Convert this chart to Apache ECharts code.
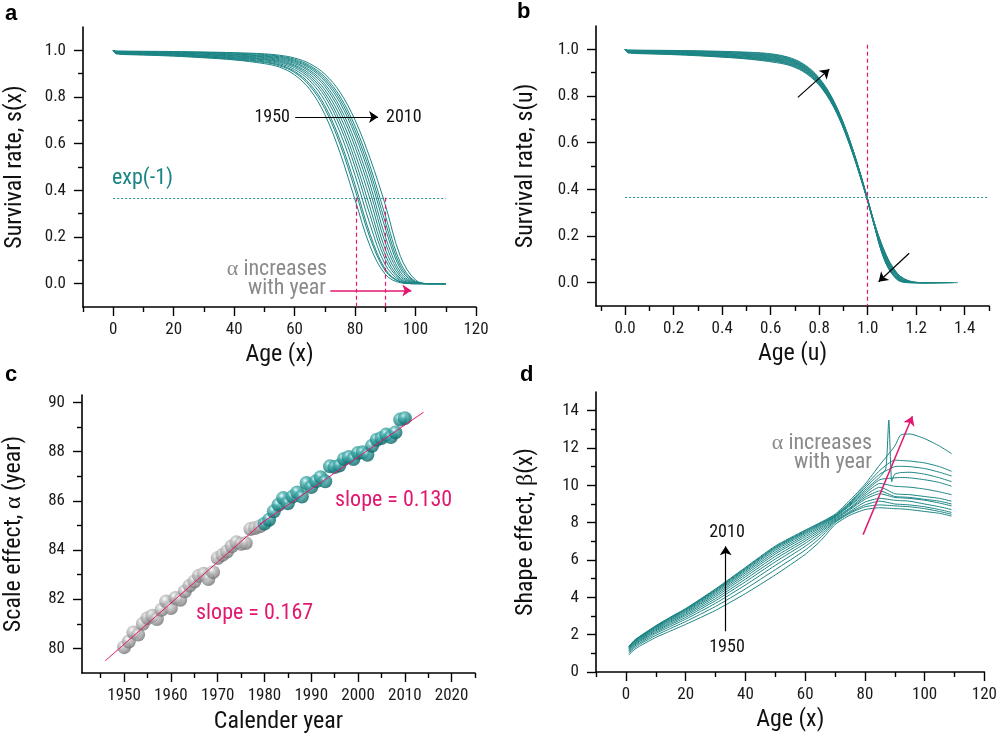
<!DOCTYPE html>
<html><head><meta charset="utf-8">
<script src="https://cdn.jsdelivr.net/npm/echarts@6/dist/echarts.min.js"></script>
<style>html,body{margin:0;padding:0;background:#fff}#c{width:1000px;height:740px}</style>
</head><body><div id="c"></div>
<script>
// ---------- DATA ----------
const years = [1950,1955,1960,1965,1970,1975,1980,1985,1990,1995,2000,2005,2010];
const curveAlpha = [80.2,81.2,81.7,82.7,83.6,84.3,85.1,85.9,86.6,87.4,88.0,88.6,89.5];

// panel a: survival rate s(x) at these ages
const sAges = [0,1,10,20,30,40,50,55,60,65,70,75,80,85,90,95,100,105,110];
const s1950 = [1,0.985,0.980,0.975,0.968,0.959,0.943,0.928,0.895,0.833,0.725,0.562,0.359,0.159,0.040,0.004,0,0,0];
const s1955 = [1,0.986,0.981,0.977,0.970,0.961,0.948,0.934,0.905,0.848,0.750,0.598,0.402,0.194,0.055,0.007,0,0,0];
const s1960 = [1,0.987,0.983,0.978,0.972,0.964,0.951,0.938,0.910,0.857,0.763,0.616,0.424,0.211,0.062,0.008,0,0,0];
const s1965 = [1,0.988,0.984,0.980,0.974,0.967,0.955,0.943,0.918,0.870,0.784,0.649,0.464,0.252,0.081,0.012,0,0,0];
const s1970 = [1,0.989,0.985,0.982,0.976,0.969,0.959,0.948,0.926,0.881,0.803,0.676,0.500,0.291,0.103,0.017,0.001,0,0];
const s1975 = [1,0.990,0.987,0.983,0.978,0.972,0.962,0.952,0.932,0.890,0.817,0.697,0.528,0.324,0.123,0.022,0.001,0,0];
const s1980 = [1,0.991,0.988,0.985,0.980,0.975,0.965,0.956,0.937,0.899,0.831,0.719,0.557,0.361,0.147,0.030,0.002,0,0];
const s1985 = [1,0.992,0.989,0.987,0.983,0.977,0.969,0.960,0.943,0.908,0.845,0.740,0.586,0.394,0.175,0.039,0.003,0,0];
const s1990 = [1,0.993,0.991,0.988,0.985,0.980,0.972,0.964,0.948,0.915,0.856,0.757,0.610,0.423,0.202,0.050,0.004,0,0];
const s1995 = [1,0.994,0.992,0.990,0.987,0.983,0.975,0.968,0.953,0.923,0.868,0.776,0.637,0.455,0.237,0.064,0.006,0,0];
const s2000 = [1,0.995,0.993,0.992,0.989,0.985,0.978,0.972,0.957,0.929,0.877,0.790,0.656,0.479,0.263,0.076,0.008,0,0];
const s2005 = [1,0.996,0.995,0.993,0.991,0.988,0.982,0.975,0.962,0.935,0.886,0.803,0.675,0.502,0.292,0.090,0.010,0,0];
const s2010 = [1,0.997,0.996,0.995,0.993,0.990,0.985,0.979,0.967,0.943,0.898,0.821,0.701,0.536,0.338,0.117,0.016,0,0];
const survival = [s1950,s1955,s1960,s1965,s1970,s1975,s1980,s1985,s1990,s1995,s2000,s2005,s2010];
const expLevel = 0.368;

// panel c: scale effect alpha per calendar year
const calYears = [1950,1951,1952,1953,1954,1955,1956,1957,1958,1959,1960,1961,1962,1963,1964,1965,1966,1967,1968,1969,
  1970,1971,1972,1973,1974,1975,1976,1977,1978,1979,1980,1981,1982,1983,1984,1985,1986,1987,1988,1989,
  1990,1991,1992,1993,1994,1995,1996,1997,1998,1999,2000,2001,2002,2003,2004,2005,2006,2007,2008,2009,2010];
const alphaVals = [80.05,80.28,80.65,80.56,81.0,81.23,81.33,81.19,81.57,81.91,81.64,82.05,81.98,82.32,82.55,82.72,82.95,83.03,82.82,83.1,
  83.67,83.8,83.94,84.15,84.31,84.25,84.28,84.85,84.89,84.96,85.07,85.23,85.57,85.84,86.11,85.9,86.17,86.34,86.17,86.72,
  86.56,86.79,86.96,86.79,87.4,87.37,87.43,87.7,87.78,87.7,87.94,87.97,87.87,88.24,88.48,88.55,88.69,88.59,88.78,89.3,89.36];
const splitYear = 1980;
const fitEarlyYears = [1946,1980], fitEarlyAlpha = [79.5,85.18];
const fitLateYears = [1979,2014], fitLateAlpha = [85.05,89.6];

// panel d: shape effect beta(x)
const betaAges = [1,3,5,10,15,20,30,40,50,60,65,70,75,80,85,90,92,95,100,105,109];
const b1950 = [0.92,1.22,1.42,1.85,2.20,2.55,3.30,4.20,5.20,6.30,7.00,7.90,8.40,8.70,8.80,8.75,8.74,8.70,8.60,8.50,8.35];
const b1955 = [1.00,1.31,1.52,1.96,2.34,2.70,3.51,4.45,5.48,6.53,7.18,8.00,8.50,8.85,8.95,8.90,8.88,8.85,8.75,8.60,8.45];
const b1960 = [1.07,1.39,1.59,2.06,2.45,2.83,3.68,4.66,5.71,6.73,7.33,8.05,8.55,8.95,9.15,9.00,8.98,8.95,8.85,8.70,8.55];
const b1965 = [1.13,1.45,1.66,2.13,2.54,2.93,3.82,4.83,5.90,6.89,7.45,8.10,8.60,9.10,9.30,9.20,9.18,9.15,9.00,8.85,8.70];
const b1970 = [1.17,1.50,1.71,2.20,2.61,3.02,3.93,4.97,6.05,7.02,7.55,8.15,8.70,9.25,9.55,9.35,9.33,9.30,9.20,9.05,8.90];
const b1975 = [1.21,1.54,1.76,2.25,2.68,3.09,4.04,5.10,6.19,7.13,7.64,8.20,8.75,9.35,9.70,9.40,9.38,9.35,9.25,9.15,9.00];
const b1980 = [1.25,1.58,1.80,2.30,2.74,3.16,4.13,5.21,6.32,7.24,7.72,8.25,8.80,9.45,9.90,9.55,9.52,9.50,9.40,9.30,9.15];
const b1985 = [1.28,1.62,1.84,2.35,2.79,3.22,4.21,5.31,6.42,7.33,7.79,8.30,8.90,9.55,10.10,9.95,9.93,9.90,9.80,9.65,9.50];
const b1990 = [1.31,1.65,1.87,2.39,2.84,3.27,4.28,5.39,6.52,7.41,7.85,8.32,8.95,9.65,10.30,10.40,10.42,10.40,10.30,10.15,9.95];
const b1995 = [1.33,1.67,1.90,2.42,2.88,3.32,4.34,5.46,6.60,7.47,7.90,8.35,9.00,9.75,10.45,10.60,10.68,10.70,10.60,10.40,10.20];
const b2000 = [1.35,1.69,1.92,2.44,2.91,3.35,4.38,5.52,6.66,7.52,7.94,8.38,9.05,9.85,10.60,11.00,11.02,11.00,10.90,10.70,10.50];
const b2005 = [1.37,1.71,1.93,2.46,2.93,3.37,4.42,5.56,6.70,7.56,7.97,8.40,9.10,9.95,10.80,11.35,11.33,11.30,11.20,11.00,10.75];
const b2010 = [1.38,1.72,1.95,2.48,2.95,3.40,4.45,5.60,6.75,7.60,8.00,8.45,9.20,10.05,11.10,12.10,12.70,12.75,12.50,12.10,11.70];
const betaCurves = [b1950,b1955,b1960,b1965,b1970,b1975,b1980,b1985,b1990,b1995,b2000,b2005,b2010];
const spikeYear = 1995, spikeAges = [87,88,89], spikeBeta = [10.9,13.5,10.2];

// tick values
const ageTicks = [0,20,40,60,80,100,120], ageMinor = [-10,10,30,50,70,90,110];
const sTicks = [0,0.2,0.4,0.6,0.8,1.0], sMinor = [0.1,0.3,0.5,0.7,0.9];
const uTicks = [0,0.2,0.4,0.6,0.8,1.0,1.2,1.4], uMinor = [-0.1,0.1,0.3,0.5,0.7,0.9,1.1,1.3,1.5];
const yearTicks = [1950,1960,1970,1980,1990,2000,2010,2020], yearMinor = [1945,1955,1965,1975,1985,1995,2005,2015,2025];
const alphaTicks = [80,82,84,86,88,90], alphaMinor = [81,83,85,87,89];
const betaTicks = [0,2,4,6,8,10,12,14], betaMinor = [1,3,5,7,9,11,13];

// ---------- STYLE ----------
const TEAL = '#1b8484', PINK = '#e2186f', GREYTXT = '#8a8a8a';
const NARROW = '"Liberation Sans Narrow","Arial Narrow","Roboto Condensed","DejaVu Sans Condensed",sans-serif';
const SANS = '"Liberation Sans",Arial,sans-serif';
const GREEK = '"Liberation Serif","DejaVu Serif",serif';

function axisPair(dim, grid, min, max, majors, minors, fmt, name, nameGap, margin) {
  const isY = dim === 'y';
  const base = {type:'value', gridIndex:grid, min:min, max:max, position:isY?'left':'bottom', splitLine:{show:false}, silent:true};
  const major = Object.assign({}, base, {
    axisLine:{show:true,onZero:false,lineStyle:{color:'#000',width:1.6}},
    axisTick:{show:true,customValues:majors,length:9,lineStyle:{color:'#000',width:1.4}},
    axisLabel:{show:true,customValues:majors,formatter:fmt,margin:margin,color:'#1a1a1a',fontFamily:NARROW,fontSize:17},
    name:name, nameLocation:'middle', nameGap:nameGap, nameRotate:isY?90:0,
    nameTextStyle:{fontFamily:NARROW,fontSize:24,color:'#111',rich:{g:{fontFamily:GREEK,fontSize:24,color:'#111'}}}
  });
  const minor = Object.assign({}, base, {
    axisLine:{show:false,onZero:false},
    axisTick:{show:true,customValues:minors,length:5,lineStyle:{color:'#000',width:1.4}},
    axisLabel:{show:false}
  });
  return [major, minor];
}
const f1 = v => Number(v).toFixed(1), f0 = v => String(Math.round(v));

const xAxis = [].concat(
  axisPair('x',0,-10,120,ageTicks,ageMinor,f0,'Age (x)',36,14),
  axisPair('x',1,-0.12,1.5,uTicks,uMinor,f1,'Age (u)',36,14),
  axisPair('x',2,1941,2025,yearTicks,yearMinor,f0,'Calender year',37,14),
  axisPair('x',3,-10,120,ageTicks,ageMinor,f0,'Age (x)',36,14)
);
const yAxis = [].concat(
  axisPair('y',0,-0.1,1.1,sTicks,sMinor,f1,'Survival rate, s(x)',56,17),
  axisPair('y',1,-0.1,1.1,sTicks,sMinor,f1,'Survival rate, s(u)',58,17),
  axisPair('y',2,79,90.3,alphaTicks,alphaMinor,f0,'Scale effect, {g|α} (year)',56,17),
  axisPair('y',3,0,15,betaTicks,betaMinor,f0,'Shape effect, {g|β}(x)',58,17)
);

const plain = (a,b,style) => [{coord:a,symbol:'none',lineStyle:style},{coord:b,symbol:'none'}];
const arrow = (a,b,style) => [{coord:a,symbol:'none',lineStyle:style},{coord:b,symbol:'arrow',symbolSize:9}];
const dotted = {color:'#2a8d8d',width:1,type:[2,2]};
const pinkDash = {color:PINK,width:1.2,type:[4,3]};
const blackArr = {color:'#000',width:1.2,type:'solid'};
const pinkArr = {color:PINK,width:1.5,type:'solid'};
function ml(data){ return {silent:true,animation:false,label:{show:false},emphasis:{disabled:true},symbol:['none','none'],data:data}; }

const series = [];
years.forEach((y,i) => {
  series.push({type:'line',name:'a'+y,xAxisIndex:0,yAxisIndex:0,showSymbol:false,silent:true,smooth:0.35,
    lineStyle:{color:TEAL,width:1},data:sAges.map((a,k)=>[a,survival[i][k]]),
    markLine: i===0 ? ml([
      plain([0,expLevel],[110,expLevel],dotted),
      plain([80.3,expLevel],[80.3,-0.1],pinkDash),
      plain([90,expLevel],[90,-0.1],pinkDash),
      arrow([60.2,0.714],[87.6,0.714],blackArr),
      arrow([71.8,-0.029],[98.6,-0.029],pinkArr)
    ]) : undefined});
});
years.forEach((y,i) => {
  series.push({type:'line',name:'b'+y,xAxisIndex:2,yAxisIndex:2,showSymbol:false,silent:true,smooth:0.35,
    lineStyle:{color:TEAL,width:1},data:sAges.map((a,k)=>[a/curveAlpha[i],survival[i][k]]),
    markLine: i===0 ? ml([
      plain([0,expLevel],[1.5,expLevel],dotted),
      plain([1,1.02],[1,-0.1],pinkDash),
      arrow([0.712,0.794],[0.842,0.915],blackArr),
      arrow([1.171,0.126],[1.045,0.004],blackArr)
    ]) : undefined});
});
const ballGrey = {type:'radial',x:0.38,y:0.32,r:0.72,colorStops:[{offset:0,color:'#ffffff'},{offset:0.28,color:'#c4c4c4'},{offset:0.75,color:'#8e8e8e'},{offset:1,color:'#666666'}]};
const ballTeal = {type:'radial',x:0.38,y:0.32,r:0.72,colorStops:[{offset:0,color:'#e6ffff'},{offset:0.28,color:'#50b2b2'},{offset:0.75,color:'#137c7b'},{offset:1,color:'#0a5656'}]};
const early = [], late = [];
calYears.forEach((y,k) => (y < splitYear ? early : late).push([y, alphaVals[k]]));
series.push({type:'scatter',xAxisIndex:4,yAxisIndex:4,symbolSize:14,silent:true,itemStyle:{color:ballGrey},data:early,z:2});
series.push({type:'scatter',xAxisIndex:4,yAxisIndex:4,symbolSize:14,silent:true,itemStyle:{color:ballTeal},data:late,z:2});
series.push({type:'line',xAxisIndex:4,yAxisIndex:4,showSymbol:false,silent:true,lineStyle:{color:PINK,width:1},
  data:fitEarlyYears.map((y,k)=>[y,fitEarlyAlpha[k]]),z:3});
series.push({type:'line',xAxisIndex:4,yAxisIndex:4,showSymbol:false,silent:true,lineStyle:{color:PINK,width:1},
  data:fitLateYears.map((y,k)=>[y,fitLateAlpha[k]]),z:3});
years.forEach((y,i) => {
  let pts = betaAges.map((a,k)=>[a,betaCurves[i][k]]);
  if (y === spikeYear) { pts = pts.concat(spikeAges.map((a,k)=>[a,spikeBeta[k]])).sort((p,q)=>p[0]-q[0]); }
  series.push({type:'line',name:'d'+y,xAxisIndex:6,yAxisIndex:6,showSymbol:false,silent:true,smooth:0.2,
    lineStyle:{color:TEAL,width:1},data:pts,
    markLine: i===0 ? ml([
      arrow([79.4,7.36],[95.9,13.7],pinkArr),
      arrow([33.4,2.18],[33.4,6.73],blackArr)
    ]) : undefined});
});

function txt(x,y,text,size,color,align){
  return {type:'text',silent:true,style:{x:x,y:y,text:text,fill:color,font:size+'px '+NARROW,
    textAlign:align,align:align,textVerticalAlign:'middle',verticalAlign:'middle',
    rich:{g:{fontFamily:GREEK,fontSize:size,fill:color,color:color}}}};
}
const boldL = (x,y,t) => ({type:'text',silent:true,style:{x:x,y:y,text:t,fill:'#000',font:'bold 22px '+SANS,textAlign:'left',align:'left',textVerticalAlign:'middle',verticalAlign:'middle'}});

const option = {
  animation:false,
  backgroundColor:'#fff',
  grid:[
    {left:83,top:27,width:393,height:280},
    {left:596,top:26,width:393,height:280},
    {left:82,top:395,width:393,height:278},
    {left:596,top:392,width:393,height:280}
  ],
  xAxis:xAxis, yAxis:yAxis, series:series,
  graphic:[
    boldL(5,14,'a'), boldL(517,12,'b'), boldL(5,375,'c'), boldL(520,375,'d'),
    txt(290,117,'1950',18,'#111','right'), txt(386,117,'2010',18,'#111','left'),
    txt(112,178,'exp(-1)',22,TEAL,'left'),
    txt(327,269,'{g|α} increases',22,GREYTXT,'right'), txt(326,288,'with year',22,GREYTXT,'right'),
    txt(335,500,'slope = 0.130',22,PINK,'left'), txt(196,613,'slope = 0.167',22,PINK,'left'),
    txt(872,443,'{g|α} increases',22,GREYTXT,'right'), txt(872,462,'with year',22,GREYTXT,'right'),
    txt(727,532,'2010',18,'#111','center'), txt(727,647,'1950',18,'#111','center')
  ]
};
echarts.init(document.getElementById('c'),null,{renderer:'canvas'}).setOption(option);
</script></body></html>
